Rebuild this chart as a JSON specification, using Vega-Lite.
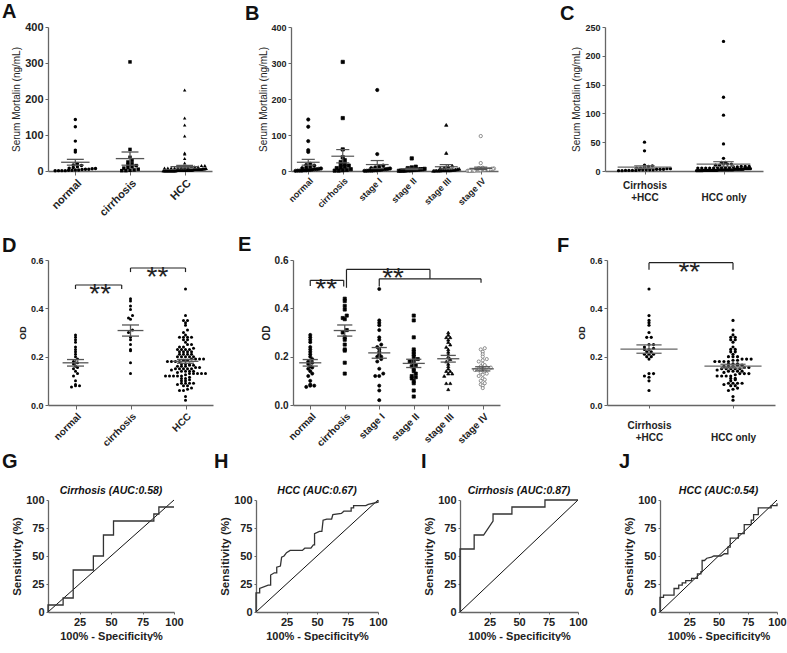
{
"$schema":"https://vega.github.io/schema/vega-lite/v6.json",
"padding":{"left":2,"top":2,"right":0,"bottom":0},
"config":{
 "view":{"stroke":null},
 "font":"Liberation Sans",
 "axis":{"grid":false,"domainColor":"#666","domainWidth":1.3,"tickColor":"#666","tickWidth":1,"tickSize":3,"tickCount":20,"labelFont":"Liberation Sans","labelFontWeight":"bold","labelColor":"#222","titleFont":"Liberation Sans","titleColor":"#222","labelPadding":2,"labelFlush":false,"labelOverlap":false,"titlePadding":3},
 "title":{"font":"Liberation Sans","fontWeight":"bold","fontSize":20,"anchor":"start","frame":"group","color":"#111","baseline":"alphabetic"}
},
"datasets":{
 "od":[
{"g":"normal","v":0.29},{"g":"normal","v":0.28},{"g":"normal","v":0.27},{"g":"normal","v":0.26},{"g":"normal","v":0.24},{"g":"normal","v":0.23},{"g":"normal","v":0.22},{"g":"normal","v":0.21},{"g":"normal","v":0.2},{"g":"normal","v":0.19},{"g":"normal","v":0.18},{"g":"normal","v":0.175},{"g":"normal","v":0.17},{"g":"normal","v":0.16},{"g":"normal","v":0.155},{"g":"normal","v":0.15},{"g":"normal","v":0.14},{"g":"normal","v":0.13},{"g":"normal","v":0.12},{"g":"normal","v":0.1},{"g":"normal","v":0.085},{"g":"normal","v":0.08},{"g":"normal","v":0.08},{"g":"normal","v":0.075},
{"g":"cirrhosis","v":0.44},{"g":"cirrhosis","v":0.43},{"g":"cirrhosis","v":0.41},{"g":"cirrhosis","v":0.395},{"g":"cirrhosis","v":0.37},{"g":"cirrhosis","v":0.36},{"g":"cirrhosis","v":0.355},{"g":"cirrhosis","v":0.31},{"g":"cirrhosis","v":0.3},{"g":"cirrhosis","v":0.28},{"g":"cirrhosis","v":0.27},{"g":"cirrhosis","v":0.25},{"g":"cirrhosis","v":0.23},{"g":"cirrhosis","v":0.225},{"g":"cirrhosis","v":0.175},{"g":"cirrhosis","v":0.13},
{"g":"stage I","v":0.48,"c":1},{"g":"stage I","v":0.35,"c":1},{"g":"stage I","v":0.34,"c":1},{"g":"stage I","v":0.33,"c":1},{"g":"stage I","v":0.31},{"g":"stage I","v":0.28},{"g":"stage I","v":0.27},{"g":"stage I","v":0.25,"c":1},{"g":"stage I","v":0.24,"c":1},{"g":"stage I","v":0.23},{"g":"stage I","v":0.22,"c":1},{"g":"stage I","v":0.21},{"g":"stage I","v":0.2,"c":1},{"g":"stage I","v":0.2},{"g":"stage I","v":0.19},{"g":"stage I","v":0.18},{"g":"stage I","v":0.15},{"g":"stage I","v":0.13,"c":1},{"g":"stage I","v":0.12},{"g":"stage I","v":0.12},{"g":"stage I","v":0.08},{"g":"stage I","v":0.06,"c":1},{"g":"stage I","v":0.02},
{"g":"stage II","v":0.37,"c":1},{"g":"stage II","v":0.35},{"g":"stage II","v":0.28,"c":1},{"g":"stage II","v":0.23,"c":1},{"g":"stage II","v":0.22},{"g":"stage II","v":0.21,"c":1},{"g":"stage II","v":0.2},{"g":"stage II","v":0.19},{"g":"stage II","v":0.185},{"g":"stage II","v":0.18},{"g":"stage II","v":0.17},{"g":"stage II","v":0.165},{"g":"stage II","v":0.16},{"g":"stage II","v":0.15},{"g":"stage II","v":0.14},{"g":"stage II","v":0.13},{"g":"stage II","v":0.12},{"g":"stage II","v":0.115,"c":1},{"g":"stage II","v":0.11},{"g":"stage II","v":0.1,"c":1},{"g":"stage II","v":0.09},{"g":"stage II","v":0.06},{"g":"stage II","v":0.035},
{"g":"stage III","v":0.3,"c":1},{"g":"stage III","v":0.29},{"g":"stage III","v":0.28,"c":1},{"g":"stage III","v":0.28},{"g":"stage III","v":0.27},{"g":"stage III","v":0.26},{"g":"stage III","v":0.25,"c":1},{"g":"stage III","v":0.24},{"g":"stage III","v":0.23,"c":1},{"g":"stage III","v":0.22,"c":1},{"g":"stage III","v":0.21,"c":1},{"g":"stage III","v":0.2},{"g":"stage III","v":0.19,"c":1},{"g":"stage III","v":0.18},{"g":"stage III","v":0.17},{"g":"stage III","v":0.16},{"g":"stage III","v":0.15},{"g":"stage III","v":0.14},{"g":"stage III","v":0.14},{"g":"stage III","v":0.13},{"g":"stage III","v":0.13},{"g":"stage III","v":0.12,"c":1},{"g":"stage III","v":0.09},{"g":"stage III","v":0.09},{"g":"stage III","v":0.065},
{"g":"stage IV","v":0.235,"c":1},{"g":"stage IV","v":0.23},{"g":"stage IV","v":0.22},{"g":"stage IV","v":0.21,"c":1},{"g":"stage IV","v":0.2,"c":1},{"g":"stage IV","v":0.19},{"g":"stage IV","v":0.185},{"g":"stage IV","v":0.18},{"g":"stage IV","v":0.17},{"g":"stage IV","v":0.165},{"g":"stage IV","v":0.16},{"g":"stage IV","v":0.155},{"g":"stage IV","v":0.155},{"g":"stage IV","v":0.15},{"g":"stage IV","v":0.15},{"g":"stage IV","v":0.145},{"g":"stage IV","v":0.14},{"g":"stage IV","v":0.135},{"g":"stage IV","v":0.13,"c":1},{"g":"stage IV","v":0.125},{"g":"stage IV","v":0.12},{"g":"stage IV","v":0.11},{"g":"stage IV","v":0.105},{"g":"stage IV","v":0.1},{"g":"stage IV","v":0.09},{"g":"stage IV","v":0.085},{"g":"stage IV","v":0.08},{"g":"stage IV","v":0.07}
 ],
 "sm":[
{"g":"normal","v":143},{"g":"normal","v":123},{"g":"normal","v":83},{"g":"normal","v":58},{"g":"normal","v":53},{"g":"normal","v":20},{"g":"normal","v":17},{"g":"normal","v":15},{"g":"normal","v":12},{"g":"normal","v":10},{"g":"normal","v":8},{"g":"normal","v":7},{"g":"normal","v":6},{"g":"normal","v":5},{"g":"normal","v":5},{"g":"normal","v":4},{"g":"normal","v":3},{"g":"normal","v":3},{"g":"normal","v":2},{"g":"normal","v":2},{"g":"normal","v":1},{"g":"normal","v":1},{"g":"normal","v":1},{"g":"normal","v":0.5},
{"g":"cirrhosis","v":303},{"g":"cirrhosis","v":60},{"g":"cirrhosis","v":38},{"g":"cirrhosis","v":30},{"g":"cirrhosis","v":25},{"g":"cirrhosis","v":20},{"g":"cirrhosis","v":18},{"g":"cirrhosis","v":15},{"g":"cirrhosis","v":12},{"g":"cirrhosis","v":10},{"g":"cirrhosis","v":8},{"g":"cirrhosis","v":5},{"g":"cirrhosis","v":3},{"g":"cirrhosis","v":2},{"g":"cirrhosis","v":1},{"g":"cirrhosis","v":1},
{"g":"cirrhosis","v":147,"only":"B"},{"g":"HCC","v":147,"only":"A"},
{"g":"stage I","v":225},{"g":"stage I","v":47},{"g":"stage I","v":15},{"g":"stage I","v":12},{"g":"stage I","v":10},{"g":"stage I","v":8},{"g":"stage I","v":7},{"g":"stage I","v":6},{"g":"stage I","v":5,"c":1},{"g":"stage I","v":5},{"g":"stage I","v":4},{"g":"stage I","v":3,"c":1},{"g":"stage I","v":3},{"g":"stage I","v":2,"c":1},{"g":"stage I","v":2},{"g":"stage I","v":1,"c":1},{"g":"stage I","v":1},{"g":"stage I","v":1},{"g":"stage I","v":0.5,"c":1},{"g":"stage I","v":0.5},
{"g":"stage II","v":35,"c":1},{"g":"stage II","v":12},{"g":"stage II","v":10},{"g":"stage II","v":8,"c":1},{"g":"stage II","v":6},{"g":"stage II","v":5,"c":1},{"g":"stage II","v":5},{"g":"stage II","v":4},{"g":"stage II","v":4},{"g":"stage II","v":3,"c":1},{"g":"stage II","v":3},{"g":"stage II","v":2,"c":1},{"g":"stage II","v":2},{"g":"stage II","v":2},{"g":"stage II","v":1,"c":1},{"g":"stage II","v":1},{"g":"stage II","v":1},{"g":"stage II","v":0.5},
{"g":"stage III","v":128},{"g":"stage III","v":50,"c":1},{"g":"stage III","v":15},{"g":"stage III","v":12},{"g":"stage III","v":10,"c":1},{"g":"stage III","v":8},{"g":"stage III","v":6},{"g":"stage III","v":5},{"g":"stage III","v":4,"c":1},{"g":"stage III","v":3},{"g":"stage III","v":2,"c":1},{"g":"stage III","v":2},{"g":"stage III","v":1,"c":1},{"g":"stage III","v":1},{"g":"stage III","v":0.5},{"g":"stage III","v":3},{"g":"stage III","v":2,"c":1},{"g":"stage III","v":2},{"g":"stage III","v":2},{"g":"stage III","v":2},{"g":"stage III","v":1},{"g":"stage III","v":1},
{"g":"stage IV","v":97},{"g":"stage IV","v":22},{"g":"stage IV","v":9,"c":1},{"g":"stage IV","v":8},{"g":"stage IV","v":7},{"g":"stage IV","v":6,"c":1},{"g":"stage IV","v":6},{"g":"stage IV","v":5},{"g":"stage IV","v":5},{"g":"stage IV","v":4,"c":1},{"g":"stage IV","v":4},{"g":"stage IV","v":4},{"g":"stage IV","v":3,"c":1},{"g":"stage IV","v":3},{"g":"stage IV","v":3},{"g":"stage IV","v":3},{"g":"stage IV","v":2,"c":1},{"g":"stage IV","v":2},{"g":"stage IV","v":2},{"g":"stage IV","v":2},{"g":"stage IV","v":2},{"g":"stage IV","v":1,"c":1},{"g":"stage IV","v":1},{"g":"stage IV","v":1},{"g":"stage IV","v":1},{"g":"stage IV","v":0.5,"c":1},{"g":"stage IV","v":0.5},{"g":"stage IV","v":0.5}
 ],
 "rocG":[{"x":0,"y":0},{"x":0,"y":6.25},{"x":12,"y":6.25},{"x":12,"y":12.5},{"x":20,"y":12.5},{"x":20,"y":37.5},{"x":36,"y":37.5},{"x":36,"y":50},{"x":44,"y":50},{"x":44,"y":68.75},{"x":52,"y":68.75},{"x":52,"y":81.25},{"x":84,"y":81.25},{"x":84,"y":87.5},{"x":88,"y":87.5},{"x":88,"y":93.75},{"x":100,"y":93.75}],
 "rocH":[{"x":0,"y":0},{"x":0,"y":17},{"x":3,"y":17},{"x":3,"y":21},{"x":10,"y":24},{"x":12,"y":24},{"x":12,"y":33},{"x":15,"y":35},{"x":17,"y":35},{"x":17,"y":40},{"x":20,"y":41},{"x":21,"y":49},{"x":23,"y":50},{"x":25,"y":53},{"x":28,"y":55},{"x":38,"y":55},{"x":40,"y":57},{"x":45,"y":57},{"x":47,"y":60},{"x":48,"y":60},{"x":48,"y":70},{"x":52,"y":72},{"x":54,"y":72},{"x":55,"y":82},{"x":58,"y":83},{"x":62,"y":83},{"x":63,"y":87},{"x":70,"y":88},{"x":72,"y":90},{"x":78,"y":90},{"x":78,"y":93},{"x":80,"y":93},{"x":80,"y":95},{"x":90,"y":95},{"x":92,"y":96},{"x":100,"y":98},{"x":100,"y":100}],
 "rocI":[{"x":0,"y":0},{"x":0,"y":56.25},{"x":12,"y":56.25},{"x":12,"y":68.75},{"x":20,"y":68.75},{"x":28,"y":81.25},{"x":28,"y":87.5},{"x":44,"y":87.5},{"x":44,"y":93.75},{"x":72,"y":93.75},{"x":72,"y":100},{"x":100,"y":100}],
 "rocJ":[{"x":0,"y":0},{"x":0,"y":13},{"x":3,"y":13},{"x":3,"y":15},{"x":12,"y":15},{"x":12,"y":21},{"x":16,"y":21},{"x":16,"y":24},{"x":19,"y":24},{"x":19,"y":26},{"x":22,"y":26},{"x":22,"y":28},{"x":27,"y":28},{"x":27,"y":30},{"x":32,"y":30},{"x":32,"y":34},{"x":35,"y":34},{"x":35,"y":36},{"x":36,"y":36},{"x":36,"y":46},{"x":38,"y":46},{"x":40,"y":48},{"x":44,"y":49},{"x":46,"y":50},{"x":52,"y":50},{"x":55,"y":52},{"x":58,"y":52},{"x":58,"y":58},{"x":60,"y":58},{"x":60,"y":66},{"x":67,"y":66},{"x":67,"y":70},{"x":72,"y":70},{"x":72,"y":78},{"x":78,"y":78},{"x":78,"y":82},{"x":80,"y":82},{"x":80,"y":87},{"x":84,"y":87},{"x":84,"y":93},{"x":95,"y":93},{"x":95,"y":95},{"x":100,"y":95},{"x":100,"y":97}]
},
"vconcat":[
{"vconcat":[
 {"hconcat":[
   {"width":164,"height":144,"title":{"text":"A","dx":-46,"offset":-1},
    "layer":[
     {"data":{"name":"sm"},
      "transform":[{"filter":"!datum.only || datum.only=='A'"},{"calculate":"indexof(['stage I','stage II','stage III','stage IV'],datum.g)>=0 ? 'HCC' : datum.g","as":"grp"},{"calculate":"indexof(['normal','cirrhosis','HCC'],datum.grp)","as":"i"},
       {"calculate":"floor(datum.v/8)","as":"b"},{"window":[{"op":"row_number","as":"rn"},{"op":"count","as":"cnt"}],"groupby":["grp","b"],"sort":[{"field":"v"}],"frame":[null,null]},{"calculate":"datum.i+(datum.rn-(datum.cnt+1)/2)*min(0.075,0.8/datum.cnt)","as":"px"}],
      "mark":{"type":"point","filled":true,"size":12,"opacity":1,"color":"black"},
      "encoding":{
       "x":{"field":"px","type":"quantitative","scale":{"domain":[-0.5,2.5],"nice":false,"zero":false},"axis":{"title":null,"values":[0,1,2],"tickCount":20,"labelExpr":"['normal','cirrhosis','HCC'][datum.value]","labelAngle":-45,"labelAlign":"right","labelBaseline":"top","labelFontSize":11,"tickSize":4,"labelOverlap":false}},
       "y":{"field":"v","type":"quantitative","scale":{"domain":[0,400],"nice":false},"axis":{"title":"Serum Mortalin (ng/mL)","values":[0,100,200,300,400],"tickCount":20,"labelFontSize":11,"titleFontSize":10,"titleFontWeight":"normal"}},
       "shape":{"field":"grp","type":"nominal","scale":{"domain":["normal","cirrhosis","HCC"],"range":["circle","square","triangle-up"]},"legend":null}}},
     {"data":{"name":"sm"},
      "transform":[{"filter":"!datum.only || datum.only=='A'"},{"calculate":"indexof(['stage I','stage II','stage III','stage IV'],datum.g)>=0 ? 'HCC' : datum.g","as":"grp"},{"calculate":"indexof(['normal','cirrhosis','HCC'],datum.grp)","as":"i"},
       {"aggregate":[{"op":"mean","field":"v","as":"m"},{"op":"stderr","field":"v","as":"se"}],"groupby":["i"]},{"calculate":"datum.m-datum.se","as":"lo"},{"calculate":"datum.m+datum.se","as":"hi"},{"calculate":"datum.i-0.26","as":"ma"},{"calculate":"datum.i+0.26","as":"mb"},{"calculate":"datum.i-0.155","as":"ca"},{"calculate":"datum.i+0.155","as":"cb"}],
      "layer":[
       {"mark":{"type":"rule","color":"#555","strokeWidth":1.3},"encoding":{"x":{"field":"ma","type":"quantitative"},"x2":{"field":"mb"},"y":{"field":"m","type":"quantitative"}}},
       {"mark":{"type":"rule","color":"#555","strokeWidth":1.3},"encoding":{"x":{"field":"ca","type":"quantitative"},"x2":{"field":"cb"},"y":{"field":"lo","type":"quantitative"}}},
       {"mark":{"type":"rule","color":"#555","strokeWidth":1.3},"encoding":{"x":{"field":"ca","type":"quantitative"},"x2":{"field":"cb"},"y":{"field":"hi","type":"quantitative"}}},
       {"mark":{"type":"rule","color":"#555","strokeWidth":1.3},"encoding":{"x":{"field":"i","type":"quantitative"},"y":{"field":"lo","type":"quantitative"},"y2":{"field":"hi"}}}]}
    ]},
   {"width":79,"height":144,"data":{"values":[]},"mark":"point"},
   {"width":207,"height":144,"title":{"text":"B","dx":-46,"offset":-1},
    "layer":[
     {"data":{"name":"sm"},
      "transform":[{"filter":"!datum.only || datum.only=='B'"},{"calculate":"datum.g","as":"grp"},{"calculate":"indexof(['normal','cirrhosis','stage I','stage II','stage III','stage IV'],datum.grp)","as":"i"},
       {"calculate":"floor(datum.v/8)","as":"b"},{"window":[{"op":"row_number","as":"rn"},{"op":"count","as":"cnt"}],"groupby":["grp","b"],"sort":[{"field":"v"}],"frame":[null,null]},{"calculate":"datum.i+(datum.rn-(datum.cnt+1)/2)*min(0.116,0.8/datum.cnt)","as":"px"}],
      "mark":{"type":"point","filled":true,"size":11,"opacity":1,"strokeWidth":0.7},
      "encoding":{
       "x":{"field":"px","type":"quantitative","scale":{"domain":[-0.5,5.5],"nice":false,"zero":false},"axis":{"title":null,"values":[0,1,2,3,4,5],"tickCount":20,"labelExpr":"['normal','cirrhosis','stage I','stage II','stage III','stage IV'][datum.value]","labelAngle":-45,"labelAlign":"right","labelBaseline":"top","labelFontSize":9,"tickSize":3,"labelOverlap":false}},
       "y":{"field":"v","type":"quantitative","scale":{"domain":[0,400],"nice":false},"axis":{"title":"Serum Mortalin (ng/mL)","values":[0,100,200,300,400],"tickCount":20,"labelFontSize":9,"titleFontSize":10,"titleFontWeight":"normal","titlePadding":2}},
       "shape":{"field":"grp","type":"nominal","scale":{"domain":["normal","cirrhosis","stage I","stage II","stage III","stage IV"],"range":["circle","square","triangle-up","triangle-down","diamond","circle"]},"legend":null},
       "fill":{"field":"grp","type":"nominal","scale":{"domain":["normal","cirrhosis","stage I","stage II","stage III","stage IV"],"range":["black","black","black","black","black","white"]},"legend":null},
       "stroke":{"field":"grp","type":"nominal","scale":{"domain":["normal","cirrhosis","stage I","stage II","stage III","stage IV"],"range":["black","black","black","black","black","#666"]},"legend":null}}},
     {"data":{"name":"sm"},
      "transform":[{"filter":"!datum.only || datum.only=='B'"},{"calculate":"indexof(['normal','cirrhosis','stage I','stage II','stage III','stage IV'],datum.g)","as":"i"},
       {"aggregate":[{"op":"mean","field":"v","as":"m"},{"op":"stderr","field":"v","as":"se"}],"groupby":["i"]},{"calculate":"datum.m-datum.se","as":"lo"},{"calculate":"datum.m+datum.se","as":"hi"},{"calculate":"datum.i-0.33","as":"ma"},{"calculate":"datum.i+0.33","as":"mb"},{"calculate":"datum.i-0.19","as":"ca"},{"calculate":"datum.i+0.19","as":"cb"}],
      "layer":[
       {"mark":{"type":"rule","color":"#555","strokeWidth":1.2},"encoding":{"x":{"field":"ma","type":"quantitative"},"x2":{"field":"mb"},"y":{"field":"m","type":"quantitative"}}},
       {"mark":{"type":"rule","color":"#555","strokeWidth":1.2},"encoding":{"x":{"field":"ca","type":"quantitative"},"x2":{"field":"cb"},"y":{"field":"lo","type":"quantitative"}}},
       {"mark":{"type":"rule","color":"#555","strokeWidth":1.2},"encoding":{"x":{"field":"ca","type":"quantitative"},"x2":{"field":"cb"},"y":{"field":"hi","type":"quantitative"}}},
       {"mark":{"type":"rule","color":"#555","strokeWidth":1.2},"encoding":{"x":{"field":"i","type":"quantitative"},"y":{"field":"lo","type":"quantitative"},"y2":{"field":"hi"}}}]}
    ]},
   {"width":107,"height":144,"data":{"values":[]},"mark":"point"},
  {"width":158,"height":144,"title":{"text":"C","dx":-45,"offset":-1},
   "layer":[
    {"data":{"name":"sm"},
     "transform":[{"filter":"!datum.only && indexof(['stage I','stage II','stage III','stage IV'],datum.g)>=0"},{"calculate":"datum.c==1 ? 'ch' : 'ho'","as":"grp"},{"calculate":"datum.c==1 ? 0 : 1","as":"i"},
      {"calculate":"floor(datum.v/5)","as":"b"},{"window":[{"op":"row_number","as":"rn"},{"op":"count","as":"cnt"}],"groupby":["grp","b"],"sort":[{"field":"v"}],"frame":[null,null]},{"calculate":"datum.i+(datum.rn-(datum.cnt+1)/2)*min(0.05,0.7/datum.cnt)","as":"px"}],
     "mark":{"type":"point","filled":true,"size":11,"opacity":1,"color":"black"},
     "encoding":{
      "x":{"field":"px","type":"quantitative","scale":{"domain":[-0.5,1.5],"nice":false,"zero":false},"axis":{"title":null,"values":[0,1],"tickCount":20,"labelExpr":"[['Cirrhosis','+HCC'],['','HCC only']][datum.value]","labelAngle":0,"labelFontSize":10,"labelLineHeight":12,"tickSize":3,"labelPadding":6,"labelOverlap":false}},
      "y":{"field":"v","type":"quantitative","scale":{"domain":[0,250],"nice":false},"axis":{"title":"Serum Mortalin (ng/mL)","values":[0,50,100,150,200,250],"tickCount":20,"labelFontSize":9,"titleFontSize":10,"titleFontWeight":"normal"}}}},
    {"data":{"name":"sm"},
     "transform":[{"filter":"!datum.only && indexof(['stage I','stage II','stage III','stage IV'],datum.g)>=0"},{"calculate":"datum.c==1 ? 0 : 1","as":"i"},
      {"aggregate":[{"op":"mean","field":"v","as":"m"},{"op":"stderr","field":"v","as":"se"}],"groupby":["i"]},{"calculate":"datum.m-datum.se","as":"lo"},{"calculate":"datum.m+datum.se","as":"hi"},{"calculate":"datum.i-0.34","as":"ma"},{"calculate":"datum.i+0.34","as":"mb"},{"calculate":"datum.i-0.13","as":"ca"},{"calculate":"datum.i+0.13","as":"cb"}],
     "layer":[
      {"mark":{"type":"rule","color":"#666","strokeWidth":1.2},"encoding":{"x":{"field":"ma","type":"quantitative"},"x2":{"field":"mb"},"y":{"field":"m","type":"quantitative"}}},
      {"mark":{"type":"rule","color":"#666","strokeWidth":1.2},"encoding":{"x":{"field":"ca","type":"quantitative"},"x2":{"field":"cb"},"y":{"field":"lo","type":"quantitative"}}},
      {"mark":{"type":"rule","color":"#666","strokeWidth":1.2},"encoding":{"x":{"field":"ca","type":"quantitative"},"x2":{"field":"cb"},"y":{"field":"hi","type":"quantitative"}}},
      {"mark":{"type":"rule","color":"#666","strokeWidth":1.2},"encoding":{"x":{"field":"i","type":"quantitative"},"y":{"field":"lo","type":"quantitative"},"y2":{"field":"hi"}}}]}
   ]}
 ],"spacing":0,"bounds":"flush"},
 {"hconcat":[
   {"width":165,"height":145,"title":{"text":"D","dx":-46,"offset":0},
    "layer":[
     {"data":{"name":"od"},
      "transform":[{"calculate":"indexof(['stage I','stage II','stage III','stage IV'],datum.g)>=0 ? 'HCC' : datum.g","as":"grp"},{"calculate":"indexof(['normal','cirrhosis','HCC'],datum.grp)","as":"i"},
       {"calculate":"floor(datum.v/0.012)","as":"b"},{"window":[{"op":"row_number","as":"rn"},{"op":"count","as":"cnt"}],"groupby":["grp","b"],"sort":[{"field":"v"}],"frame":[null,null]},{"calculate":"datum.i+(datum.rn-(datum.cnt+1)/2)*min(0.073,0.8/datum.cnt)","as":"px"}],
      "mark":{"type":"point","filled":true,"size":9,"opacity":1,"color":"black"},
      "encoding":{
       "x":{"field":"px","type":"quantitative","scale":{"domain":[-0.5,2.5],"nice":false,"zero":false},"axis":{"title":null,"values":[0,1,2],"tickCount":20,"labelExpr":"['normal','cirrhosis','HCC'][datum.value]","labelAngle":-45,"labelAlign":"right","labelBaseline":"top","labelFontSize":10,"tickSize":4,"labelOverlap":false}},
       "y":{"field":"v","type":"quantitative","scale":{"domain":[0,0.6],"nice":false},"axis":{"title":"OD","values":[0,0.2,0.4,0.6],"tickCount":20,"format":".1f","labelFontSize":9,"titleFontSize":9,"titleFontWeight":"bold"}}}},
     {"data":{"name":"od"},
      "transform":[{"calculate":"indexof(['stage I','stage II','stage III','stage IV'],datum.g)>=0 ? 'HCC' : datum.g","as":"grp"},{"calculate":"indexof(['normal','cirrhosis','HCC'],datum.grp)","as":"i"},
       {"aggregate":[{"op":"mean","field":"v","as":"m"},{"op":"stderr","field":"v","as":"se"}],"groupby":["i"]},{"calculate":"datum.m-datum.se","as":"lo"},{"calculate":"datum.m+datum.se","as":"hi"},{"calculate":"datum.i-0.235","as":"ma"},{"calculate":"datum.i+0.235","as":"mb"},{"calculate":"datum.i-0.155","as":"ca"},{"calculate":"datum.i+0.155","as":"cb"}],
      "layer":[
       {"mark":{"type":"rule","color":"#555","strokeWidth":1.3},"encoding":{"x":{"field":"ma","type":"quantitative"},"x2":{"field":"mb"},"y":{"field":"m","type":"quantitative"}}},
       {"mark":{"type":"rule","color":"#555","strokeWidth":1.3},"encoding":{"x":{"field":"ca","type":"quantitative"},"x2":{"field":"cb"},"y":{"field":"lo","type":"quantitative"}}},
       {"mark":{"type":"rule","color":"#555","strokeWidth":1.3},"encoding":{"x":{"field":"ca","type":"quantitative"},"x2":{"field":"cb"},"y":{"field":"hi","type":"quantitative"}}},
       {"mark":{"type":"rule","color":"#555","strokeWidth":1.3},"encoding":{"x":{"field":"i","type":"quantitative"},"y":{"field":"lo","type":"quantitative"},"y2":{"field":"hi"}}}]},
     {"data":{"values":[{"x":0,"x2":0,"y":0.48,"y2":0.4965},{"x":0,"x2":0.84,"y":0.4965,"y2":0.4965},{"x":0.84,"x2":0.84,"y":0.4965,"y2":0.48},{"x":1,"x2":1,"y":0.55,"y2":0.567},{"x":1,"x2":2,"y":0.567,"y2":0.567},{"x":2,"x2":2,"y":0.567,"y2":0.55}]},
      "mark":{"type":"rule","color":"#222","strokeWidth":1.2},
      "encoding":{"x":{"field":"x","type":"quantitative"},"x2":{"field":"x2"},"y":{"field":"y","type":"quantitative"},"y2":{"field":"y2"}}},
     {"data":{"values":[{"x":0.45,"y":0.4965,"t":"**"},{"x":1.49,"y":0.567,"t":"**"}]},
      "mark":{"type":"text","fontSize":28,"dy":10,"color":"#222"},
      "encoding":{"x":{"field":"x","type":"quantitative"},"y":{"field":"y","type":"quantitative"},"text":{"field":"t"}}}
    ]},
   {"width":80,"height":145,"data":{"values":[]},"mark":"point"},
   {"width":207,"height":145,"title":{"text":"E","dx":-55,"offset":0},
    "layer":[
     {"data":{"name":"od"},
      "transform":[{"calculate":"datum.g","as":"grp"},{"calculate":"indexof(['normal','cirrhosis','stage I','stage II','stage III','stage IV'],datum.grp)","as":"i"},
       {"calculate":"floor(datum.v/0.012)","as":"b"},{"window":[{"op":"row_number","as":"rn"},{"op":"count","as":"cnt"}],"groupby":["grp","b"],"sort":[{"field":"v"}],"frame":[null,null]},{"calculate":"datum.i+(datum.rn-(datum.cnt+1)/2)*min(0.116,0.8/datum.cnt)","as":"px"}],
      "mark":{"type":"point","filled":true,"size":10,"opacity":1,"strokeWidth":0.7},
      "encoding":{
       "x":{"field":"px","type":"quantitative","scale":{"domain":[-0.5,5.5],"nice":false,"zero":false},"axis":{"title":null,"values":[0,1,2,3,4,5],"tickCount":20,"labelExpr":"['normal','cirrhosis','stage I','stage II','stage III','stage IV'][datum.value]","labelAngle":-45,"labelAlign":"right","labelBaseline":"top","labelFontSize":10,"tickSize":4,"labelOverlap":false}},
       "y":{"field":"v","type":"quantitative","scale":{"domain":[0,0.6],"nice":false},"axis":{"title":"OD","values":[0,0.2,0.4,0.6],"tickCount":20,"format":".1f","labelFontSize":10,"titleFontSize":10,"titleFontWeight":"bold"}},
       "shape":{"field":"grp","type":"nominal","scale":{"domain":["normal","cirrhosis","stage I","stage II","stage III","stage IV"],"range":["circle","square","triangle-up","triangle-down","diamond","circle"]},"legend":null},
       "fill":{"field":"grp","type":"nominal","scale":{"domain":["normal","cirrhosis","stage I","stage II","stage III","stage IV"],"range":["black","black","black","black","black","white"]},"legend":null},
       "stroke":{"field":"grp","type":"nominal","scale":{"domain":["normal","cirrhosis","stage I","stage II","stage III","stage IV"],"range":["black","black","black","black","black","#666"]},"legend":null}}},
     {"data":{"name":"od"},
      "transform":[{"calculate":"indexof(['normal','cirrhosis','stage I','stage II','stage III','stage IV'],datum.g)","as":"i"},
       {"aggregate":[{"op":"mean","field":"v","as":"m"},{"op":"stderr","field":"v","as":"se"}],"groupby":["i"]},{"calculate":"datum.m-datum.se","as":"lo"},{"calculate":"datum.m+datum.se","as":"hi"},{"calculate":"datum.i-0.32","as":"ma"},{"calculate":"datum.i+0.32","as":"mb"},{"calculate":"datum.i-0.22","as":"ca"},{"calculate":"datum.i+0.22","as":"cb"}],
      "layer":[
       {"mark":{"type":"rule","color":"#555","strokeWidth":1.3},"encoding":{"x":{"field":"ma","type":"quantitative"},"x2":{"field":"mb"},"y":{"field":"m","type":"quantitative"}}},
       {"mark":{"type":"rule","color":"#555","strokeWidth":1.3},"encoding":{"x":{"field":"ca","type":"quantitative"},"x2":{"field":"cb"},"y":{"field":"lo","type":"quantitative"}}},
       {"mark":{"type":"rule","color":"#555","strokeWidth":1.3},"encoding":{"x":{"field":"ca","type":"quantitative"},"x2":{"field":"cb"},"y":{"field":"hi","type":"quantitative"}}},
       {"mark":{"type":"rule","color":"#555","strokeWidth":1.3},"encoding":{"x":{"field":"i","type":"quantitative"},"y":{"field":"lo","type":"quantitative"},"y2":{"field":"hi"}}}]},
     {"data":{"values":[{"x":0,"x2":0,"y":0.492,"y2":0.516},{"x":0,"x2":0.97,"y":0.516,"y2":0.516},{"x":0.97,"x2":0.97,"y":0.516,"y2":0.49},{"x":1.05,"x2":1.05,"y":0.485,"y2":0.561},{"x":1.05,"x2":3.47,"y":0.561,"y2":0.561},{"x":3.47,"x2":3.47,"y":0.561,"y2":0.522},{"x":2,"x2":4.95,"y":0.522,"y2":0.522},{"x":2,"x2":2,"y":0.522,"y2":0.49},{"x":4.95,"x2":4.95,"y":0.522,"y2":0.506}]},
      "mark":{"type":"rule","color":"#222","strokeWidth":1.2},
      "encoding":{"x":{"field":"x","type":"quantitative"},"x2":{"field":"x2"},"y":{"field":"y","type":"quantitative"},"y2":{"field":"y2"}}},
     {"data":{"values":[{"x":0.46,"y":0.516,"t":"**"},{"x":2.4,"y":0.561,"t":"**"}]},
      "mark":{"type":"text","fontSize":28,"dy":10,"color":"#222"},
      "encoding":{"x":{"field":"x","type":"quantitative"},"y":{"field":"y","type":"quantitative"},"text":{"field":"t"}}}
    ]},
   {"width":107,"height":145,"data":{"values":[]},"mark":"point"},
  {"width":168,"height":145,"title":{"text":"F","dx":-50,"offset":0},
   "layer":[
    {"data":{"name":"od"},
     "transform":[{"filter":"indexof(['stage I','stage II','stage III','stage IV'],datum.g)>=0"},{"calculate":"datum.c==1 ? 'ch' : 'ho'","as":"grp"},{"calculate":"datum.c==1 ? 0 : 1","as":"i"},
      {"calculate":"floor(datum.v/0.012)","as":"b"},{"window":[{"op":"row_number","as":"rn"},{"op":"count","as":"cnt"}],"groupby":["grp","b"],"sort":[{"field":"v"}],"frame":[null,null]},{"calculate":"datum.i+(datum.rn-(datum.cnt+1)/2)*min(0.054,0.6/datum.cnt)","as":"px"}],
     "mark":{"type":"point","filled":true,"size":10,"opacity":1,"color":"black"},
     "encoding":{
      "x":{"field":"px","type":"quantitative","scale":{"domain":[-0.5,1.5],"nice":false,"zero":false},"axis":{"title":null,"values":[0,1],"tickCount":20,"labelExpr":"[['Cirrhosis','+HCC'],['','HCC only']][datum.value]","labelAngle":0,"labelFontSize":10,"labelLineHeight":12,"tickSize":3,"labelPadding":12,"labelOverlap":false}},
      "y":{"field":"v","type":"quantitative","scale":{"domain":[0,0.6],"nice":false},"axis":{"title":"OD","values":[0,0.2,0.4,0.6],"tickCount":20,"format":".1f","labelFontSize":9,"titleFontSize":9,"titleFontWeight":"bold"}}}},
    {"data":{"name":"od"},
     "transform":[{"filter":"indexof(['stage I','stage II','stage III','stage IV'],datum.g)>=0"},{"calculate":"datum.c==1 ? 0 : 1","as":"i"},
      {"aggregate":[{"op":"mean","field":"v","as":"m"},{"op":"stderr","field":"v","as":"se"}],"groupby":["i"]},{"calculate":"datum.m-datum.se","as":"lo"},{"calculate":"datum.m+datum.se","as":"hi"},{"calculate":"datum.i-0.34","as":"ma"},{"calculate":"datum.i+0.34","as":"mb"},{"calculate":"datum.i-0.15","as":"ca"},{"calculate":"datum.i+0.15","as":"cb"}],
     "layer":[
      {"mark":{"type":"rule","color":"#666","strokeWidth":1.3},"encoding":{"x":{"field":"ma","type":"quantitative"},"x2":{"field":"mb"},"y":{"field":"m","type":"quantitative"}}},
      {"mark":{"type":"rule","color":"#666","strokeWidth":1.3},"encoding":{"x":{"field":"ca","type":"quantitative"},"x2":{"field":"cb"},"y":{"field":"lo","type":"quantitative"}}},
      {"mark":{"type":"rule","color":"#666","strokeWidth":1.3},"encoding":{"x":{"field":"ca","type":"quantitative"},"x2":{"field":"cb"},"y":{"field":"hi","type":"quantitative"}}},
      {"mark":{"type":"rule","color":"#666","strokeWidth":1.3},"encoding":{"x":{"field":"i","type":"quantitative"},"y":{"field":"lo","type":"quantitative"},"y2":{"field":"hi"}}}]},
    {"data":{"values":[{"x":0,"x2":0,"y":0.56,"y2":0.589},{"x":0,"x2":1,"y":0.589,"y2":0.589},{"x":1,"x2":1,"y":0.589,"y2":0.56}]},
     "mark":{"type":"rule","color":"#222","strokeWidth":1.2},
     "encoding":{"x":{"field":"x","type":"quantitative"},"x2":{"field":"x2"},"y":{"field":"y","type":"quantitative"},"y2":{"field":"y2"}}},
    {"data":{"values":[{"x":0.48,"y":0.589,"t":"**"}]},
     "mark":{"type":"text","fontSize":28,"dy":10,"color":"#222"},
     "encoding":{"x":{"field":"x","type":"quantitative"},"y":{"field":"y","type":"quantitative"},"text":{"field":"t"}}}
   ]}
 ],"spacing":0,"bounds":"flush"}
],"spacing":17},
{"hconcat":[
 {"width":126,"height":112,"title":{"text":"G","dx":-46,"offset":14},
  "layer":[
   {"data":{"values":[{"x":0,"y":0},{"x":100,"y":100}]},"mark":{"type":"line","color":"#111","strokeWidth":1},
    "encoding":{"x":{"field":"x","type":"quantitative","scale":{"domain":[0,100],"nice":false},"axis":{"title":"100% - Specificity%","values":[25,50,75,100],"tickCount":20,"labelFontSize":11,"titleFontSize":11,"titleFontWeight":"bold","tickSize":2,"labelOverlap":false}},
     "y":{"field":"y","type":"quantitative","scale":{"domain":[0,100],"nice":false},"axis":{"title":"Sensitivity (%)","values":[0,25,50,75,100],"tickCount":20,"labelFontSize":11,"titleFontSize":11.5,"titleFontWeight":"bold","tickSize":2,"labelOverlap":false}}}},
   {"data":{"name":"rocG"},"transform":[{"window":[{"op":"row_number","as":"o"}]}],"mark":{"type":"line","color":"#333","strokeWidth":1.3},
    "encoding":{"x":{"field":"x","type":"quantitative"},"y":{"field":"y","type":"quantitative"},"order":{"field":"o"}}},
   {"data":{"values":[{"t":"Cirrhosis (AUC:0.58)"}]},"mark":{"type":"text","fontStyle":"italic","fontWeight":"bold","fontSize":10.5,"dy":-6,"baseline":"alphabetic","color":"#111"},
    "encoding":{"x":{"datum":50},"y":{"datum":100},"text":{"field":"t"}}}
  ]},
 {"width":122,"height":112,"title":{"text":"H","dx":-42,"offset":14},
  "layer":[
   {"data":{"values":[{"x":0,"y":0},{"x":100,"y":100}]},"mark":{"type":"line","color":"#111","strokeWidth":1},
    "encoding":{"x":{"field":"x","type":"quantitative","scale":{"domain":[0,100],"nice":false},"axis":{"title":"100% - Specificity%","values":[25,50,75,100],"tickCount":20,"labelFontSize":11,"titleFontSize":11,"titleFontWeight":"bold","tickSize":2,"labelOverlap":false}},
     "y":{"field":"y","type":"quantitative","scale":{"domain":[0,100],"nice":false},"axis":{"title":"Sensitivity (%)","values":[0,25,50,75,100],"tickCount":20,"labelFontSize":11,"titleFontSize":11.5,"titleFontWeight":"bold","tickSize":2,"labelOverlap":false}}}},
   {"data":{"name":"rocH"},"transform":[{"window":[{"op":"row_number","as":"o"}]}],"mark":{"type":"line","color":"#333","strokeWidth":1.3},
    "encoding":{"x":{"field":"x","type":"quantitative"},"y":{"field":"y","type":"quantitative"},"order":{"field":"o"}}},
   {"data":{"values":[{"t":"HCC (AUC:0.67)"}]},"mark":{"type":"text","fontStyle":"italic","fontWeight":"bold","fontSize":10.5,"dy":-6,"baseline":"alphabetic","color":"#111"},
    "encoding":{"x":{"datum":50},"y":{"datum":100},"text":{"field":"t"}}}
  ]},
 {"width":118,"height":112,"title":{"text":"I","dx":-39,"offset":14},
  "layer":[
   {"data":{"values":[{"x":0,"y":0},{"x":100,"y":100}]},"mark":{"type":"line","color":"#111","strokeWidth":1},
    "encoding":{"x":{"field":"x","type":"quantitative","scale":{"domain":[0,100],"nice":false},"axis":{"title":"100% - Specificity%","values":[25,50,75,100],"tickCount":20,"labelFontSize":11,"titleFontSize":11,"titleFontWeight":"bold","tickSize":2,"labelOverlap":false}},
     "y":{"field":"y","type":"quantitative","scale":{"domain":[0,100],"nice":false},"axis":{"title":"Sensitivity (%)","values":[0,25,50,75,100],"tickCount":20,"labelFontSize":11,"titleFontSize":11.5,"titleFontWeight":"bold","tickSize":2,"labelOverlap":false}}}},
   {"data":{"name":"rocI"},"transform":[{"window":[{"op":"row_number","as":"o"}]}],"mark":{"type":"line","color":"#333","strokeWidth":1.3},
    "encoding":{"x":{"field":"x","type":"quantitative"},"y":{"field":"y","type":"quantitative"},"order":{"field":"o"}}},
   {"data":{"values":[{"t":"Cirrhosis (AUC:0.87)"}]},"mark":{"type":"text","fontStyle":"italic","fontWeight":"bold","fontSize":10.5,"dy":-6,"baseline":"alphabetic","color":"#111"},
    "encoding":{"x":{"datum":50},"y":{"datum":100},"text":{"field":"t"}}}
  ]},
 {"width":117,"height":112,"title":{"text":"J","dx":-41,"offset":14},
  "layer":[
   {"data":{"values":[{"x":0,"y":0},{"x":100,"y":100}]},"mark":{"type":"line","color":"#111","strokeWidth":1},
    "encoding":{"x":{"field":"x","type":"quantitative","scale":{"domain":[0,100],"nice":false},"axis":{"title":"100% - Specificity%","values":[25,50,75,100],"tickCount":20,"labelFontSize":11,"titleFontSize":11,"titleFontWeight":"bold","tickSize":2,"labelOverlap":false}},
     "y":{"field":"y","type":"quantitative","scale":{"domain":[0,100],"nice":false},"axis":{"title":"Sensitivity (%)","values":[0,25,50,75,100],"tickCount":20,"labelFontSize":11,"titleFontSize":11.5,"titleFontWeight":"bold","tickSize":2,"labelOverlap":false}}}},
   {"data":{"name":"rocJ"},"transform":[{"window":[{"op":"row_number","as":"o"}]}],"mark":{"type":"line","color":"#333","strokeWidth":1.3},
    "encoding":{"x":{"field":"x","type":"quantitative"},"y":{"field":"y","type":"quantitative"},"order":{"field":"o"}}},
   {"data":{"values":[{"t":"HCC (AUC:0.54)"}]},"mark":{"type":"text","fontStyle":"italic","fontWeight":"bold","fontSize":10.5,"dy":-6,"baseline":"alphabetic","color":"#111"},
    "encoding":{"x":{"datum":50},"y":{"datum":100},"text":{"field":"t"}}}
  ]}
],"spacing":82,"bounds":"flush"}
],"spacing":4
}
